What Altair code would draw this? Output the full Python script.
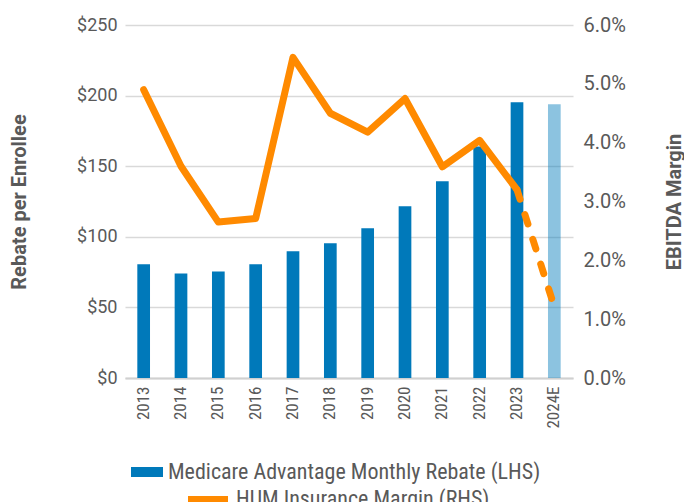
import altair as alt
import pandas as pd

years = ["2013", "2014", "2015", "2016", "2017", "2018", "2019", "2020", "2021", "2022", "2023", "2024E"]
rebate = [80.5, 74, 75.5, 80.5, 89.7, 95.4, 106, 121.6, 139.3, 164, 195.3, 193.8]
margin = [0.049, 0.036, 0.0265, 0.0271, 0.0545, 0.045, 0.0418, 0.0475, 0.0359, 0.0404, 0.032, 0.0121]

bar_name = "Medicare Advantage Monthly Rebate (LHS)"
line_name = "HUM Insurance Margin (RHS)"

df = pd.DataFrame({"year": years, "rebate": rebate, "margin": margin})
df["bar_series"] = bar_name
df["line_series"] = line_name
solid = df[df["year"] != "2024E"]
dashed = df[df["year"].isin(["2023", "2024E"])]

BLUE = "#0079BA"
ORANGE = "#FF8A00"
GRAY = "#595959"
FONT = "Roboto"
NARROW = "Liberation Sans Narrow, Roboto Condensed, Roboto"

x_enc = alt.X(
    "year:N",
    sort=years,
    scale=alt.Scale(paddingInner=0.66, paddingOuter=0.33),
    axis=alt.Axis(
        title=None, labelAngle=270, labelFont=NARROW, labelFontSize=17,
        labelColor=GRAY, labelPadding=8, ticks=False, domain=True,
        domainColor="#D0D0D0", domainWidth=2, grid=False,
    ),
)

bars = alt.Chart(df).mark_bar().encode(
    x=x_enc,
    y=alt.Y(
        "rebate:Q",
        scale=alt.Scale(domain=[0, 250], nice=False),
        axis=alt.Axis(
            title="Rebate per Enrollee", values=[0, 50, 100, 150, 200, 250],
            format="$.0f", labelFont=FONT, labelFontSize=18, labelColor=GRAY,
            labelPadding=8, ticks=False, domain=False, grid=True,
            gridColor="#D9D9D9", gridWidth=1.5,
            titleFont=FONT, titleFontSize=20, titleFontWeight="bold",
            titleColor=GRAY, titleAngle=270, titleBaseline="middle",
            titleAlign="center", titleX=-106, titleY=176.5,
        ),
    ),
    fill=alt.Fill(
        "bar_series:N",
        scale=alt.Scale(domain=[bar_name], range=[BLUE]),
        legend=alt.Legend(
            title=None, orient="none", legendX=6, legendY=431,
            symbolType="M-1,-0.3125H1V0.3125H-1Z", symbolSize=1024,
            symbolOpacity=1, labelFont=NARROW, labelFontSize=22,
            labelColor=GRAY, labelOffset=5, padding=0, symbolStrokeWidth=0,
            labelLimit=600,
        ),
    ),
    opacity=alt.when(alt.datum.year == "2024E").then(alt.value(0.45)).otherwise(alt.value(1.0)),
)

y2_scale = alt.Scale(domain=[0, 0.06], nice=False)
y2_axis = alt.Axis(
    orient="right", title="EBITDA Margin",
    values=[0, 0.01, 0.02, 0.03, 0.04, 0.05, 0.06], format=".1%",
    labelFont=FONT, labelFontSize=20, labelColor=GRAY, labelPadding=10,
    ticks=False, domain=False, grid=False,
    titleFont=FONT, titleFontSize=20, titleFontWeight="bold",
    titleColor=GRAY, titleAngle=270, titleBaseline="middle",
    titleAlign="center", titleX=101, titleY=176.5,
)

line_solid = alt.Chart(solid).mark_line(strokeWidth=7, strokeCap="round", strokeJoin="round").encode(
    x=x_enc,
    y=alt.Y("margin:Q", scale=y2_scale, axis=y2_axis),
    stroke=alt.Stroke(
        "line_series:N",
        scale=alt.Scale(domain=[line_name], range=[ORANGE]),
        legend=alt.Legend(
            title=None, orient="none", legendX=60, legendY=451,
            symbolType="stroke", symbolSize=1600, symbolStrokeWidth=6,
            labelFont=NARROW, labelFontSize=22, labelColor=GRAY,
            labelOffset=5, padding=0, labelLimit=600,
        ),
    ),
)

line_dash = alt.Chart(dashed).mark_line(
    strokeWidth=7, strokeCap="round", strokeDash=[10, 16], color=ORANGE
).encode(
    x=x_enc,
    y=alt.Y("margin:Q", scale=y2_scale, axis=y2_axis),
)

chart = alt.layer(bars, alt.layer(line_solid, line_dash)).resolve_scale(
    y="independent"
).properties(
    width=448, height=353,
    autosize=alt.AutoSizeParams(type="none"),
    padding={"left": 117, "top": 17, "right": 111, "bottom": 124},
).configure_view(stroke=None)

chart.save("out.html", embed_options={"renderer": "svg", "actions": False})
